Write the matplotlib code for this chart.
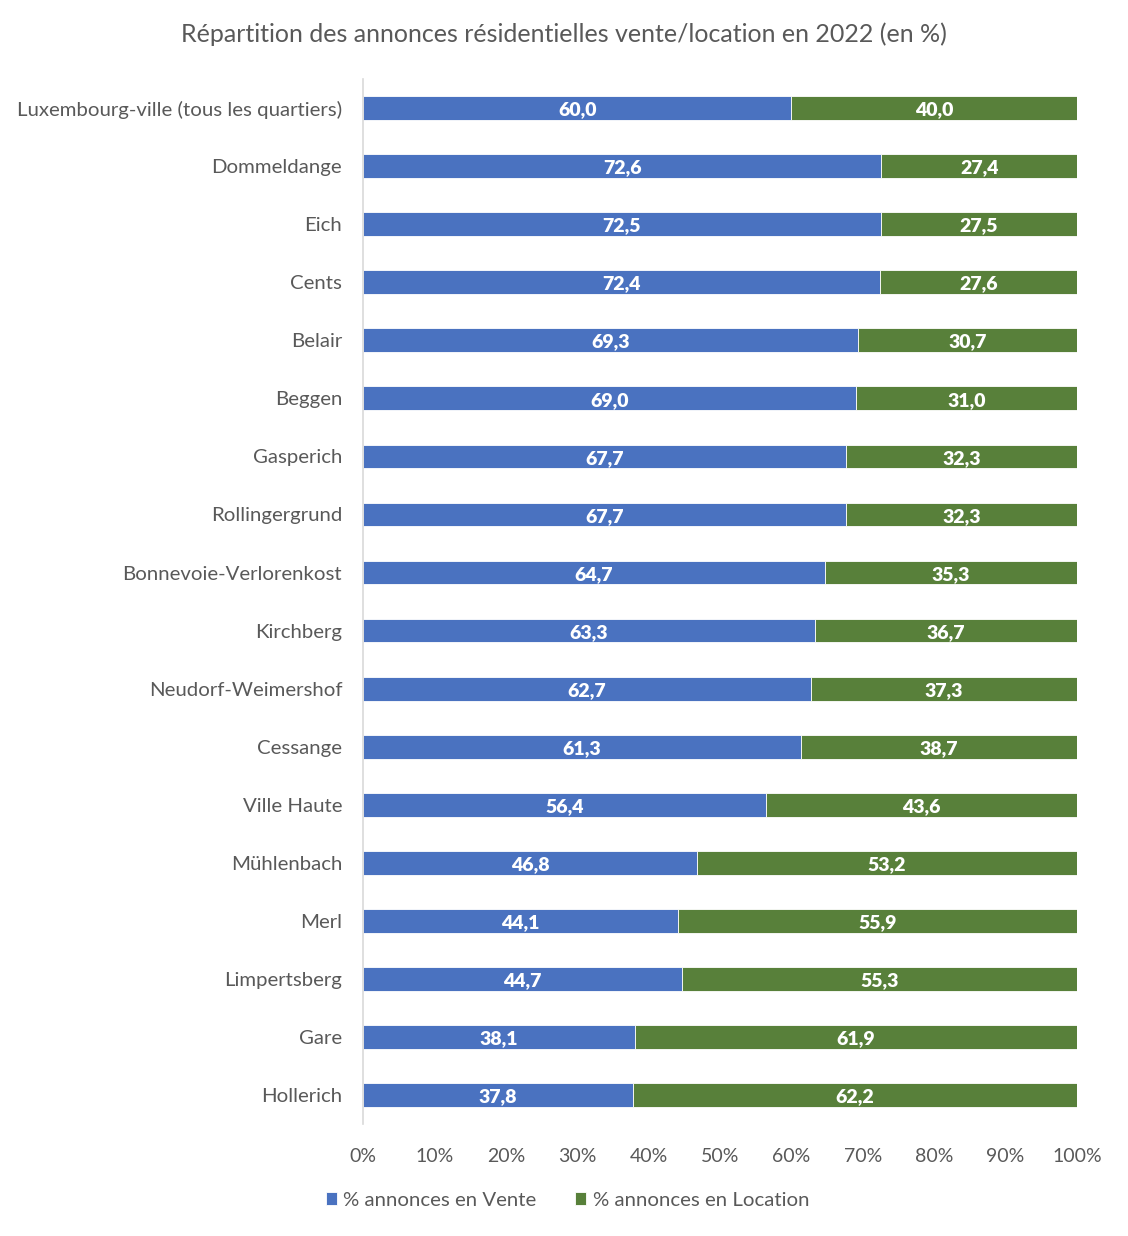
import numpy as np
import matplotlib.pyplot as plt

# data
quartiers = ['Luxembourg-ville (tous les quartiers)', 'Dommeldange', 'Eich', 'Cents',
             'Belair', 'Beggen', 'Gasperich', 'Rollingergrund', 'Bonnevoie-Verlorenkost',
             'Kirchberg', 'Neudorf-Weimershof', 'Cessange', 'Ville Haute', 'Mühlenbach',
             'Merl', 'Limpertsberg', 'Gare', 'Hollerich']
vente = [60.0, 72.6, 72.5, 72.4, 69.3, 69.0, 67.7, 67.7, 64.7, 63.3, 62.7, 61.3,
         56.4, 46.8, 44.1, 44.7, 38.1, 37.8]
location = [40.0, 27.4, 27.5, 27.6, 30.7, 31.0, 32.3, 32.3, 35.3, 36.7, 37.3, 38.7,
            43.6, 53.2, 55.9, 55.3, 61.9, 62.2]

blue = '#4A72C0'
green = '#58803A'
grey = '#595959'

plt.rcParams['font.family'] = ['Lato', 'DejaVu Sans']

fig = plt.figure(figsize=(11.28, 12.36), dpi=100)
ax = fig.add_axes([0.3218, 0.0906, 0.633, 0.8454])

y = np.arange(len(quartiers))
total = np.array(vente) + np.array(location)
pv = np.array(vente) / total * 100
pl = np.array(location) / total * 100

b1 = ax.barh(y, pv, height=0.41, color=blue, edgecolor='white', linewidth=0.6,
             label='% annonces en Vente')
b2 = ax.barh(y, pl, left=pv, height=0.41, color=green, edgecolor='white', linewidth=0.6,
             label='% annonces en Location')

# value labels inside segments
for i in range(len(quartiers)):
    ax.text(pv[i] / 2, y[i] + 0.03, f'{vente[i]:.1f}'.replace('.', ','), ha='center',
            va='center', color='white', fontweight='heavy', fontsize=14)
    ax.text(pv[i] + pl[i] / 2, y[i] + 0.03, f'{location[i]:.1f}'.replace('.', ','),
            ha='center', va='center', color='white', fontweight='heavy', fontsize=14)

ax.set_ylim(len(quartiers) - 0.5, -0.5)
ax.set_xlim(0, 100)
ax.set_yticks(y)
ax.set_yticklabels(quartiers, fontsize=14.7, color=grey)
ax.set_xticks(np.arange(0, 101, 10))
ax.set_xticklabels([f'{v}%' for v in range(0, 101, 10)], fontsize=14, color=grey)
ax.tick_params(length=0)
ax.tick_params(axis='y', pad=15)
ax.tick_params(axis='x', pad=17)
for s in ['top', 'right', 'bottom']:
    ax.spines[s].set_visible(False)
ax.spines['left'].set_color('#d9d9d9')
ax.spines['left'].set_linewidth(1.2)

fig.suptitle('Répartition des annonces résidentielles vente/location en 2022 (en %)',
             x=0.5, y=0.982, fontsize=18, color=grey)

fig.legend(handles=[b1, b2], loc='center', bbox_to_anchor=(0.503, 0.029), ncol=2,
           frameon=False, fontsize=14.7, labelcolor=grey, handlelength=0.55,
           handleheight=0.55, handletextpad=0.3, columnspacing=1.9)

fig.savefig('out.png', dpi=100)
